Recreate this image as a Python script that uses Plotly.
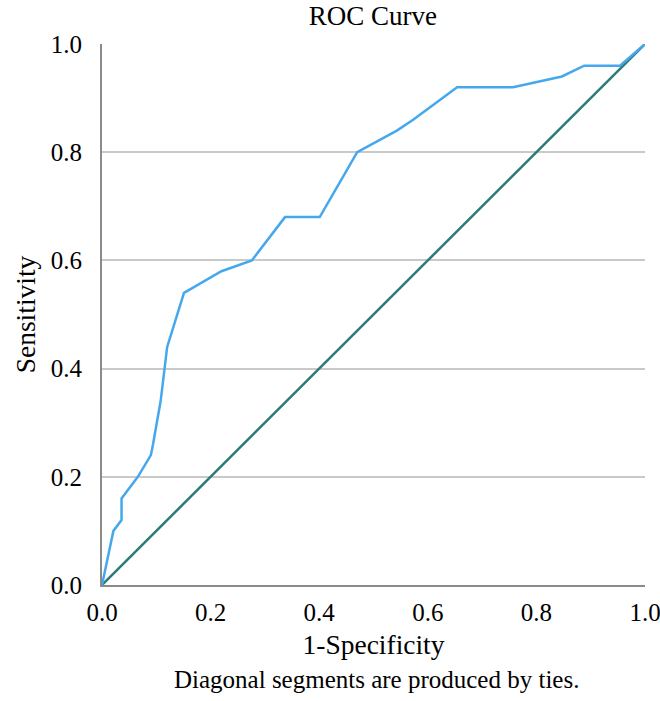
import plotly.graph_objects as go

fpr = [0, 0.015, 0.021, 0.036, 0.036, 0.066, 0.09, 0.094, 0.108, 0.12, 0.151, 0.22, 0.276, 0.337,
       0.401, 0.47, 0.543, 0.573, 0.654, 0.757, 0.847, 0.888, 0.954, 1.0]
tpr = [0, 0.07, 0.10, 0.12, 0.16, 0.20, 0.24, 0.26, 0.34, 0.44, 0.54, 0.58, 0.60, 0.68,
       0.68, 0.80, 0.84, 0.86, 0.92, 0.92, 0.94, 0.96, 0.96, 1.0]
ref_x = [0, 1]
ref_y = [0, 1]
tick_vals = [0, 0.2, 0.4, 0.6, 0.8, 1.0]
tick_text = ["0.0", "0.2", "0.4", "0.6", "0.8", "1.0"]

FONT = "Liberation Serif"

fig = go.Figure()
fig.add_trace(go.Scatter(x=ref_x, y=ref_y, mode="lines",
                         line=dict(color="#2b7b78", width=2.5), showlegend=False))
fig.add_trace(go.Scatter(x=fpr, y=tpr, mode="lines",
                         line=dict(color="#45a8ee", width=2.5), showlegend=False))

fig.update_layout(
    width=660, height=701,
    margin=dict(l=102, r=15, t=44, b=116),
    paper_bgcolor="white", plot_bgcolor="white",
    font=dict(family=FONT, color="black", size=25),
    title=dict(text="ROC Curve", x=0.565, xanchor="center", y=0.978, yanchor="middle",
               font=dict(family=FONT, size=27, color="black")),
    xaxis=dict(range=[0, 1], tickvals=tick_vals, ticktext=tick_text, showgrid=False,
               showline=True, linecolor="#8a8a8a", linewidth=2, zeroline=False,
               ticks="", tickfont=dict(size=25), ticklabelstandoff=4,
               ticklabeloverflow="allow", automargin=False,
               title=dict(text="1-Specificity", font=dict(size=27.5), standoff=10)),
    yaxis=dict(range=[0, 1], tickvals=tick_vals, ticktext=tick_text, showgrid=True,
               gridcolor="#c9c9c9", gridwidth=2, showline=True, linecolor="#8a8a8a",
               linewidth=2, zeroline=False, ticks="", tickfont=dict(size=25),
               ticklabelstandoff=13, automargin=False,
               title=dict(text="Sensitivity", font=dict(size=27.5), standoff=7)),
    annotations=[dict(text="Diagonal segments are produced by ties.", xref="paper", yref="paper",
                      x=0.506, y=-0.174, xanchor="center", yanchor="middle", showarrow=False,
                      font=dict(family=FONT, size=25, color="black"))],
)

fig.write_html("out.html", config={"displayModeBar": False},
               post_script="document.body.style.margin='0';")
